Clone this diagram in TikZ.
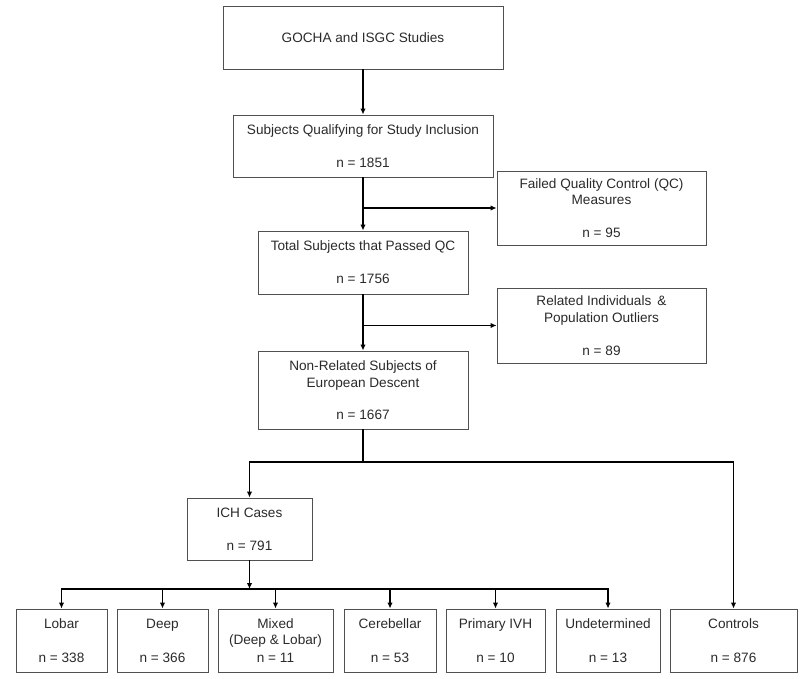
\documentclass[tikz,border=0pt]{standalone}
\usepackage{fontspec}
\setmainfont{Liberation Sans}
\usetikzlibrary{arrows.meta}
\definecolor{boxLine}{HTML}{505050}
\definecolor{boxText}{HTML}{2A2A2A}

\tikzset{
    box/.style={draw=boxLine, line width=0.9pt, text=boxText, align=center,
        inner sep=0pt, font=\fontsize{13.6}{16.5}\selectfont},
    flow/.style={->, line width=1.8pt},
}

\begin{document}
\begin{tikzpicture}[x=1pt, y=-1pt, >={Latex[length=6pt,width=5.5pt]}]

    \useasboundingbox (0,0) rectangle (800,679);

    % main column
    \node[box, minimum width=280, minimum height=63] (studies) at (363,37.5) {GOCHA and ISGC Studies};
    \node[box, minimum width=260, minimum height=62] (qualify) at (363,146) {Subjects Qualifying for Study Inclusion\\[16.5pt] n = 1851};
    \node[box, minimum width=210, minimum height=63] (passqc) at (363,262.5) {Total Subjects that Passed QC\\[16.5pt] n = 1756};
    \node[box, minimum width=210, minimum height=78] (nonrel) at (363,390) {Non-Related Subjects of\\ European Descent\\[15.5pt] n = 1667};

    % excluded
    \node[box, minimum width=209, minimum height=74] (failqc) at (601.5,208) {Failed Quality Control (QC)\\ Measures\\[16.5pt] n = 95};
    \node[box, minimum width=209, minimum height=75] (related) at (601.5,325.5) {Related Individuals \,\&\\ Population Outliers\\[16.5pt] n = 89};

    % cases and controls
    \node[box, minimum width=125, minimum height=62] (ich) at (249.5,529) {ICH Cases\\[16.5pt] n = 791};
    \node[box, minimum width=127, minimum height=63] (controls) at (733.5,640.5) {Controls\\[17.5pt] n = 876};

    % subtypes
    \node[box, minimum width=91, minimum height=63] (lobar) at (61.5,640.5) {Lobar\\[17.5pt] n = 338};
    \node[box, minimum width=91, minimum height=63] (deep) at (162.5,640.5) {Deep\\[17.5pt] n = 366};
    \node[box, minimum width=115, minimum height=63] (mixed) at (275.5,640.5) {Mixed\\ (Deep \& Lobar)\\[1.5pt] n = 11};
    \node[box, minimum width=92, minimum height=63] (cereb) at (390,640.5) {Cerebellar\\[17.5pt] n = 53};
    \node[box, minimum width=99, minimum height=63] (ivh) at (495.5,640.5) {Primary IVH\\[17.5pt] n = 10};
    \node[box, minimum width=104, minimum height=63] (undet) at (608,640.5) {Undetermined\\[17.5pt] n = 13};

    % arrows
    \draw[flow] (studies) -- (qualify);
    \draw[flow] (qualify) -- (passqc);
    \draw[flow] (qualify.south |- failqc.west) -- (failqc.west);
    \draw[flow] (passqc) -- (nonrel);
    \draw[flow] (passqc.south |- related.west) -- (related.west);

    \coordinate (split) at (363,462);
    \draw[line width=1.8pt] (nonrel.south) -- (split);
    \draw[flow] (split) -| (ich.north);
    \draw[flow] (split) -| (controls.north);

    \coordinate (fork) at (249.5,589);
    \draw[flow] (ich.south) -- (fork);
    \foreach \t in {lobar,deep,mixed,cereb,ivh,undet} {
        \draw[flow] (fork) -| (\t.north);
    }

\end{tikzpicture}
\end{document}
